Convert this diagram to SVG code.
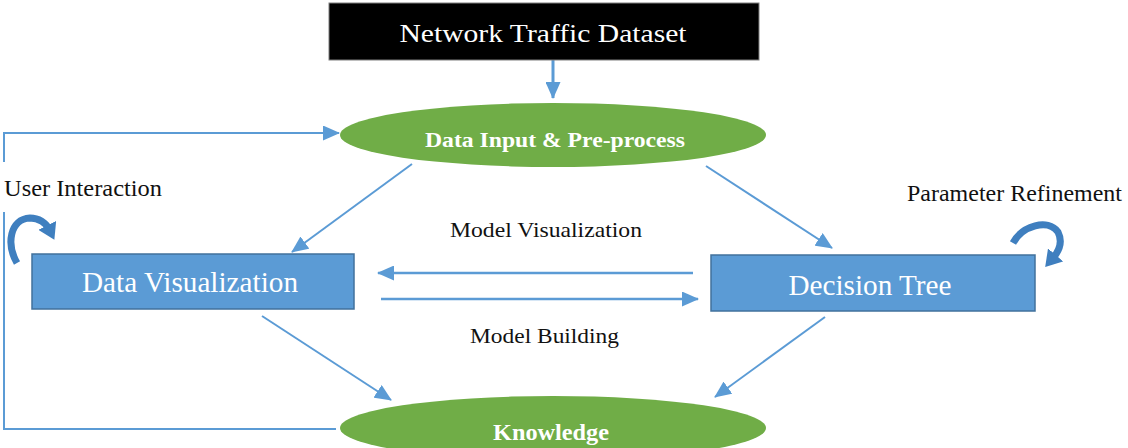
<svg xmlns="http://www.w3.org/2000/svg" width="1128" height="448" viewBox="0 0 1128 448">
<style>
  .lbl { font-family: "Liberation Serif", "Times New Roman", serif; fill: #111; }
  .wt { font-family: "Liberation Serif", "Times New Roman", serif; fill: #ffffff; }
  .box { fill: #5b9bd5; stroke: #41719c; stroke-width: 1.5; }
  .ell { fill: #70ad47; }
  .ln { stroke: #5b9bd5; fill: none; }
  .curve { stroke: #3f7fbf; stroke-width: 7; fill: none; stroke-linecap: butt; }
</style>
<defs>
  <marker id="ah" markerUnits="userSpaceOnUse" markerWidth="17" markerHeight="15" refX="16" refY="7.5" orient="auto">
    <path d="M0,0 L17,7.5 L0,15 z" fill="#5b9bd5"/>
  </marker>
  <marker id="ahc" markerUnits="userSpaceOnUse" markerWidth="16" markerHeight="20" refX="4" refY="10" orient="auto">
    <path d="M0,0 L16,10 L0,20 z" fill="#3f7fbf"/>
  </marker>
</defs>
<rect width="1128" height="448" fill="#ffffff"/>

<g id="connectors">
  <line class="ln" stroke-width="3" x1="553" y1="60" x2="553" y2="98" marker-end="url(#ah)"/>
  <polyline class="ln" stroke-width="2" points="4,162 4,133 339,133" marker-end="url(#ah)"/>
  <polyline class="ln" stroke-width="2" points="4,212 4,429 336,429"/>
  <line class="ln" stroke-width="2" x1="412" y1="164" x2="292" y2="252" marker-end="url(#ah)"/>
  <line class="ln" stroke-width="2" x1="706" y1="166" x2="832" y2="248" marker-end="url(#ah)"/>
  <line class="ln" stroke-width="2.5" x1="693" y1="273" x2="378" y2="273" marker-end="url(#ah)"/>
  <line class="ln" stroke-width="2.5" x1="381" y1="299" x2="698" y2="299" marker-end="url(#ah)"/>
  <line class="ln" stroke-width="2" x1="262" y1="316" x2="391" y2="400" marker-end="url(#ah)"/>
  <line class="ln" stroke-width="2" x1="825" y1="317" x2="715" y2="397" marker-end="url(#ah)"/>
  <path class="curve" d="M17,263 C6,244 10,219 30,218 C39,218 46,223 49,229" marker-end="url(#ahc)"/>
  <path class="curve" d="M1013,243 C1022,226 1048,218 1058,232 C1063,242 1059,251 1053,258" marker-end="url(#ahc)"/>
</g>

<g id="network-traffic-dataset">
  <rect x="329" y="3" width="430" height="57" fill="#000000" stroke="#7f7f7f" stroke-width="1"/>
  <text class="wt" x="543" y="42" font-size="25" text-anchor="middle" textLength="287" lengthAdjust="spacingAndGlyphs">Network Traffic Dataset</text>
</g>

<g id="data-input">
  <ellipse class="ell" cx="553" cy="135" rx="213" ry="32"/>
  <text class="wt" x="555" y="147" font-size="21" font-weight="bold" text-anchor="middle" textLength="260" lengthAdjust="spacingAndGlyphs">Data Input &amp; Pre-process</text>
</g>

<g id="data-visualization">
  <rect class="box" x="32" y="254" width="322" height="55"/>
  <text class="wt" x="190" y="292" font-size="29" text-anchor="middle" textLength="216" lengthAdjust="spacingAndGlyphs">Data Visualization</text>
</g>

<g id="decision-tree">
  <rect class="box" x="711" y="255" width="324" height="56"/>
  <text class="wt" x="870" y="295" font-size="29" text-anchor="middle" textLength="163" lengthAdjust="spacingAndGlyphs">Decision Tree</text>
</g>

<g id="knowledge">
  <ellipse class="ell" cx="553" cy="428" rx="213" ry="32"/>
  <text class="wt" x="551" y="440" font-size="23" font-weight="bold" text-anchor="middle" textLength="116" lengthAdjust="spacingAndGlyphs">Knowledge</text>
</g>

<g id="labels">
  <text class="lbl" x="4" y="196" font-size="23" textLength="158" lengthAdjust="spacingAndGlyphs">User Interaction</text>
  <text class="lbl" x="907" y="201" font-size="23" textLength="215" lengthAdjust="spacingAndGlyphs">Parameter Refinement</text>
  <text class="lbl" x="450" y="237" font-size="22" textLength="192" lengthAdjust="spacingAndGlyphs">Model Visualization</text>
  <text class="lbl" x="470" y="343" font-size="22" textLength="149" lengthAdjust="spacingAndGlyphs">Model Building</text>
</g>
</svg>
